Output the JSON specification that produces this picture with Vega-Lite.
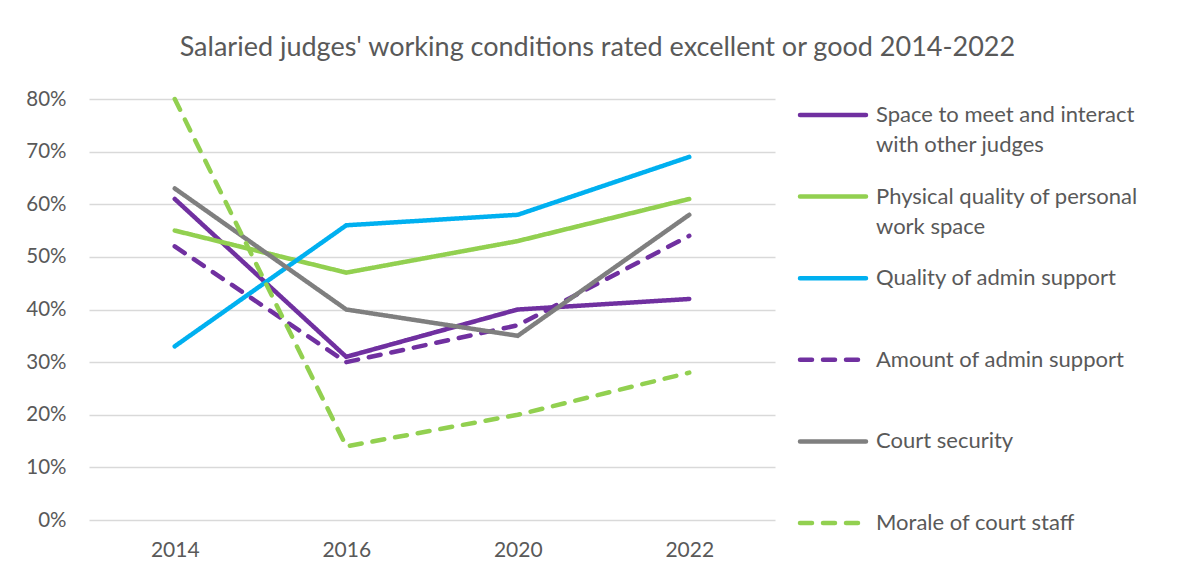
{
  "$schema": "https://vega.github.io/schema/vega-lite/v6.json",
  "padding": {"left": 25, "top": 34, "right": 0, "bottom": 0},
  "background": "white",
  "title": {
    "text": "Salaried judges' working conditions rated excellent or good 2014-2022",
    "fontSize": 27,
    "font": "Lato",
    "fontWeight": "normal",
    "color": "#595959",
    "anchor": "middle",
    "offset": 27
  },
  "datasets": {
    "main": [
      {"series": "Space to meet and interact with other judges", "year": "2014", "value": 0.61},
      {"series": "Space to meet and interact with other judges", "year": "2016", "value": 0.31},
      {"series": "Space to meet and interact with other judges", "year": "2020", "value": 0.40},
      {"series": "Space to meet and interact with other judges", "year": "2022", "value": 0.42},
      {"series": "Physical quality of personal work space", "year": "2014", "value": 0.55},
      {"series": "Physical quality of personal work space", "year": "2016", "value": 0.47},
      {"series": "Physical quality of personal work space", "year": "2020", "value": 0.53},
      {"series": "Physical quality of personal work space", "year": "2022", "value": 0.61},
      {"series": "Quality of admin support", "year": "2014", "value": 0.33},
      {"series": "Quality of admin support", "year": "2016", "value": 0.56},
      {"series": "Quality of admin support", "year": "2020", "value": 0.58},
      {"series": "Quality of admin support", "year": "2022", "value": 0.69},
      {"series": "Amount of admin support", "year": "2014", "value": 0.52},
      {"series": "Amount of admin support", "year": "2016", "value": 0.30},
      {"series": "Amount of admin support", "year": "2020", "value": 0.37},
      {"series": "Amount of admin support", "year": "2022", "value": 0.54},
      {"series": "Court security", "year": "2014", "value": 0.63},
      {"series": "Court security", "year": "2016", "value": 0.40},
      {"series": "Court security", "year": "2020", "value": 0.35},
      {"series": "Court security", "year": "2022", "value": 0.58},
      {"series": "Morale of court staff", "year": "2014", "value": 0.80},
      {"series": "Morale of court staff", "year": "2016", "value": 0.14},
      {"series": "Morale of court staff", "year": "2020", "value": 0.20},
      {"series": "Morale of court staff", "year": "2022", "value": 0.28}
    ],
    "legend": [
      {"series": "Space to meet and interact with other judges", "label": "Space to meet and interact\nwith other judges"},
      {"series": "Physical quality of personal work space", "label": "Physical quality of personal\nwork space"},
      {"series": "Quality of admin support", "label": "Quality of admin support"},
      {"series": "Amount of admin support", "label": "Amount of admin support"},
      {"series": "Court security", "label": "Court security"},
      {"series": "Morale of court staff", "label": "Morale of court staff"}
    ]
  },
  "spacing": 22,
  "hconcat": [
    {
      "width": 686,
      "height": 421,
      "data": {"name": "main"},
      "mark": {"type": "line", "strokeWidth": 4.5, "strokeCap": "round"},
      "encoding": {
        "x": {
          "field": "year",
          "type": "ordinal",
          "scale": {"type": "point", "padding": 0.5},
          "axis": {
            "title": null,
            "labelAngle": 0,
            "domain": false,
            "ticks": false,
            "tickSize": 0,
            "labelPadding": 19,
            "labelFontSize": 21,
            "labelFont": "Lato",
            "labelColor": "#595959"
          }
        },
        "y": {
          "field": "value",
          "type": "quantitative",
          "scale": {"domain": [0, 0.8], "nice": false},
          "axis": {
            "title": null,
            "values": [0, 0.1, 0.2, 0.3, 0.4, 0.5, 0.6, 0.7, 0.8],
            "format": ".0%",
            "domain": false,
            "ticks": false,
            "tickSize": 0,
            "labelPadding": 23,
            "labelFontSize": 20.5,
            "labelFont": "Lato",
            "labelColor": "#595959",
            "gridColor": "#D9D9D9",
            "gridWidth": 1.5
          }
        },
        "color": {
          "field": "series",
          "type": "nominal",
          "scale": {
            "domain": ["Space to meet and interact with other judges", "Physical quality of personal work space", "Quality of admin support", "Amount of admin support", "Court security", "Morale of court staff"],
            "range": ["#7030A0", "#92D050", "#00B0F0", "#7030A0", "#7F7F7F", "#92D050"]
          },
          "legend": null
        },
        "strokeDash": {
          "field": "series",
          "type": "nominal",
          "scale": {
            "domain": ["Space to meet and interact with other judges", "Physical quality of personal work space", "Quality of admin support", "Amount of admin support", "Court security", "Morale of court staff"],
            "range": [[1, 0], [1, 0], [1, 0], [12, 11], [1, 0], [12, 11]]
          },
          "legend": null
        }
      }
    },
    {
      "width": 371,
      "height": 440,
      "data": {"name": "legend"},
      "encoding": {
        "y": {
          "field": "series",
          "type": "nominal",
          "scale": {
            "type": "point",
            "padding": 0.196,
            "domain": ["Space to meet and interact with other judges", "Physical quality of personal work space", "Quality of admin support", "Amount of admin support", "Court security", "Morale of court staff"]
          },
          "axis": null
        }
      },
      "layer": [
        {
          "mark": {"type": "rule", "strokeWidth": 4.5, "strokeCap": "round"},
          "encoding": {
            "x": {"datum": 2, "type": "quantitative", "scale": {"domain": [0, 371], "nice": false, "zero": false}, "axis": null},
            "x2": {"datum": 68},
            "color": {
              "field": "series",
              "type": "nominal",
              "scale": {
                "domain": ["Space to meet and interact with other judges", "Physical quality of personal work space", "Quality of admin support", "Amount of admin support", "Court security", "Morale of court staff"],
                "range": ["#7030A0", "#92D050", "#00B0F0", "#7030A0", "#7F7F7F", "#92D050"]
              },
              "legend": null
            },
            "strokeDash": {
              "field": "series",
              "type": "nominal",
              "scale": {
                "domain": ["Space to meet and interact with other judges", "Physical quality of personal work space", "Quality of admin support", "Amount of admin support", "Court security", "Morale of court staff"],
                "range": [[1, 0], [1, 0], [1, 0], [12, 11], [1, 0], [12, 11]]
              },
              "legend": null
            }
          }
        },
        {
          "mark": {
            "type": "text",
            "align": "left",
            "baseline": "alphabetic",
            "dy": 7,
            "fontSize": 22,
            "font": "Lato",
            "lineHeight": 30,
            "lineBreak": "\n",
            "color": "#595959"
          },
          "encoding": {
            "x": {"datum": 78, "type": "quantitative"},
            "text": {"field": "label", "type": "nominal"}
          }
        }
      ]
    }
  ],
  "config": {"view": {"stroke": null}, "font": "Lato"}
}
